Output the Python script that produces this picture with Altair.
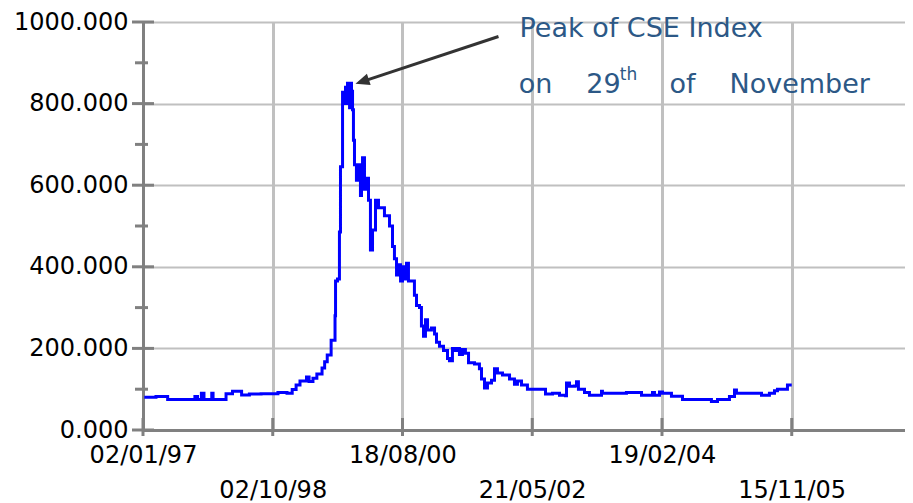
import altair as alt
import pandas as pd

# ---- data (x in tick-interval units: 100 per interval) ----
day = [1, 10, 19, 37, 40, 42, 45, 47, 53, 54, 64, 69, 76, 82, 91, 104, 111, 115, 118, 121,
       126, 128, 131, 134, 138, 140, 142, 145, 148, 148.4, 149.9, 151.4, 152.2, 153.8, 155.3,
       156.1, 156.8, 157.6, 159.2, 159.9, 160.7, 161.5, 162.2, 163.0, 164.5, 166.1, 167.6,
       168.4, 169.2, 170.7, 172.3, 173.8, 175.3, 176.9, 179.2, 181.5, 186.1, 190.0, 192.3,
       193.8, 195.4, 196.9, 198.5, 200.0, 201.5, 203.1, 204.6, 206.9, 209.2, 210.8, 213.1,
       214.6, 216.2, 217.7, 219.3, 222.3, 224.7, 226.2, 228.5, 231.6, 234.7, 236.2, 238.5,
       240.8, 242.4, 243.9, 246.2, 248.5, 250.9, 255.5, 259.3, 260.9, 263.2, 265.5, 268.6,
       270.9, 273.2, 277.1, 282.5, 286.3, 288.6, 291.7, 296.3, 305.6, 310.2, 315.6, 321.0,
       325.6, 326.4, 328.7, 332.6, 334.1, 335.6, 340.3, 344.1, 353.4, 354.1, 372.6, 384.2,
       392.7, 394.2, 398.1, 400.4, 407.3, 415.8, 438.1, 442.8, 452.0, 455.9, 457.4, 476.7,
       482.8, 486.7, 489.0, 496.7, 500.0]
index_value = [80, 82, 75, 75, 82, 75, 90, 75, 90, 75, 89, 95, 86, 88, 89, 92, 90, 99, 110, 120,
               130, 119, 127, 137, 152, 167, 184, 220, 280, 365, 370, 485, 645, 828, 800,
               840, 800, 850, 790, 850, 830, 785, 710, 650, 612, 650, 575,
               637, 667, 590, 617, 563, 441, 490, 563, 545, 525, 500, 450,
               420, 380, 405, 365, 400, 370, 409, 365, 365, 330, 305, 300,
               255, 230, 270, 245, 250, 235, 215, 205, 195, 175, 170, 200,
               195, 200, 185, 197, 188, 165, 162, 150, 125, 103, 115, 122,
               150, 140, 135, 125, 112, 120, 110, 100, 100, 88, 90, 85,
               84, 115, 107, 108, 118, 100, 92, 85, 95, 90, 92, 85,
               92, 85, 93, 90, 83, 75, 70, 75, 82, 98, 90, 85,
               90, 96, 100, 110, 110]

x_tick_values = [0, 100, 200, 300, 400, 500]
x_tick_labels = ["02/01/97", "02/10/98", "18/08/00", "21/05/02", "19/02/04", "15/11/05"]
y_major = [0, 200, 400, 600, 800, 1000]
y_minor = [100, 300, 500, 700, 900]

note_text = ["Peak of CSE Index", "on", "29", "th", "of", "November"]
note_x = [290.2, 289.6, 341.6, 367.5, 405.8, 452.0]
note_y = [963.7, 826.5, 826.5, 859.0, 826.5, 826.5]
note_size = [27, 27, 27, 17, 27, 27]

arrow_start = (274.0, 964.5)
arrow_head = (168.9, 854.0)

X_MAX = 587.3
W, H = 762, 408

line_df = pd.DataFrame({"day": day, "value": index_value})
note_df = pd.DataFrame({"day": note_x, "value": note_y, "text": note_text, "fs": note_size})
arrow_df = pd.DataFrame({"day": [arrow_start[0]], "value": [arrow_start[1]],
                         "day2": [arrow_head[0]], "value2": [arrow_head[1]]})
head_df = pd.DataFrame({"day": [arrow_head[0]], "value": [arrow_head[1]]})
ymaj_df = pd.DataFrame({"value": y_major})
ymin_df = pd.DataFrame({"value": y_minor})
xt_df = pd.DataFrame({"day": x_tick_values})

# label expression: alternate labels on two rows
expr = "''"
for i in reversed(range(len(x_tick_values))):
    lab = x_tick_labels[i]
    txt = f"'{lab}'" if i % 2 == 0 else f"['', '{lab}']"
    expr = f"datum.value == {x_tick_values[i]} ? {txt} : ({expr})"

xscale = alt.Scale(domain=[0, X_MAX], nice=False, zero=False)
yscale = alt.Scale(domain=[0, 1000], nice=False)

GRAY = "#808080"

xaxis = alt.Axis(values=x_tick_values, labelExpr=expr, grid=True, gridColor="#c0c0c0",
                 gridWidth=3, ticks=False, tickSize=0, labelPadding=13,
                 labelFont="DejaVu Sans", labelFontSize=24, labelColor="#000000",
                 labelLineHeight=35, labelOverlap=False, labelFlush=False,
                 domainColor=GRAY, domainWidth=3)
yaxis = alt.Axis(values=y_major, format=".3f", grid=True, gridColor="#c0c0c0",
                 gridWidth=2, ticks=False, tickSize=0, labelPadding=15,
                 labelFont="DejaVu Sans", labelFontSize=24, labelColor="#000000",
                 labelOverlap=False, labelFlush=False,
                 domainColor=GRAY, domainWidth=3)


def X(field):
    return alt.X(field, scale=xscale, title=None, axis=xaxis)


def Y(field):
    return alt.Y(field, scale=yscale, title=None, axis=yaxis)


line = alt.Chart(line_df).mark_line(color="#0000FF", strokeWidth=3, interpolate="step-after").encode(
    x=X("day:Q"), y=Y("value:Q"))

ymaj = alt.Chart(ymaj_df).mark_rule(color=GRAY, strokeWidth=3, xOffset=-11, x2Offset=11).encode(
    x=alt.datum(0, scale=xscale, axis=xaxis, title=None), x2=alt.datum(0), y=Y("value:Q"))
ymin = alt.Chart(ymin_df).mark_rule(color=GRAY, strokeWidth=3, xOffset=-8, x2Offset=5).encode(
    x=alt.datum(0, scale=xscale, axis=xaxis, title=None), x2=alt.datum(0), y=Y("value:Q"))
xt = alt.Chart(xt_df).mark_rule(color=GRAY, strokeWidth=3, yOffset=6, y2Offset=-12).encode(
    x=X("day:Q"), y=alt.datum(0, scale=yscale, axis=yaxis, title=None), y2=alt.datum(0))

arrow = alt.Chart(arrow_df).mark_rule(color="#333333", strokeWidth=3).encode(
    x=X("day:Q"), y=Y("value:Q"), x2="day2:Q", y2="value2:Q")
head = alt.Chart(head_df).mark_point(shape="M0,-1L-0.85,1L0.85,1Z", size=196, filled=True,
                                      color="#333333", opacity=1, angle=251.8).encode(
    x=X("day:Q"), y=Y("value:Q"))

notes = alt.Chart(note_df).mark_text(align="left", baseline="alphabetic", font="DejaVu Sans",
                                     color="#2C5886").encode(
    x=X("day:Q"), y=Y("value:Q"),
    text="text:N", size=alt.Size("fs:Q", scale=None, legend=None))

chart = alt.layer(line, ymaj, ymin, xt, arrow, head, notes).properties(
    width=W, height=H,
    autosize=alt.AutoSizeParams(type="none"),
    padding={"left": 135, "top": 14, "right": 0, "bottom": 72},
    background="#ffffff",
).configure_view(stroke=None)

chart.save("out.html", embed_options={"renderer": "svg", "actions": False})
